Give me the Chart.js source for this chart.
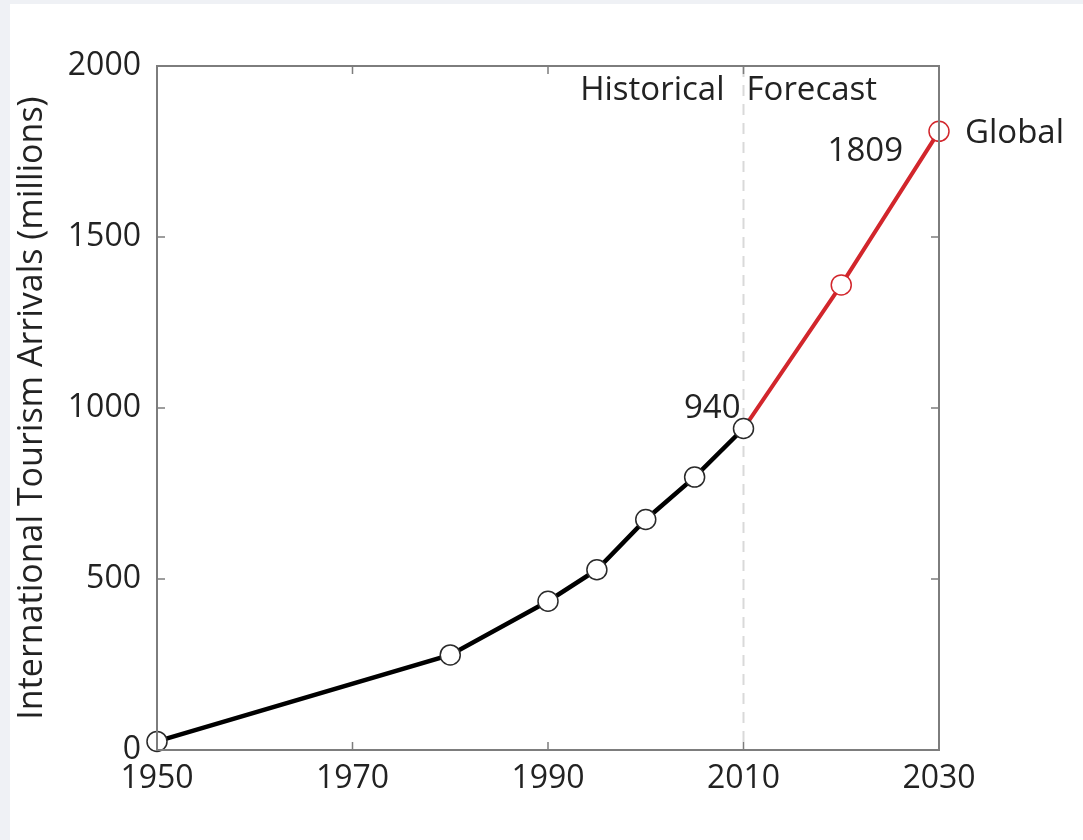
<!DOCTYPE html>
<html>
<head>
<meta charset="utf-8">
<script src="https://cdn.jsdelivr.net/npm/chart.js@4"></script>
<style>
  html, body { margin: 0; padding: 0; background: #eff1f5; }
  #wrap { position: absolute; left: 10px; top: 4px; width: 1073px; height: 836px; background: #ffffff; }
</style>
</head>
<body>
<div id="wrap"><canvas id="chart" width="1073" height="836"></canvas></div>
<script>
// tourism arrivals, millions
const histYears = [1950, 1980, 1990, 1995, 2000, 2005, 2010];
const histValues = [25, 278, 435, 527, 674, 798, 940];
const foreYears = [2010, 2020, 2030];
const foreValues = [940, 1360, 1809];
const xTicks = [1950, 1970, 1990, 2010, 2030];
const yTicks = [0, 500, 1000, 1500, 2000];

const FONT = "'Open Sans', 'Noto Sans', sans-serif";
const textColor = "#222222";
const red = "#d2262c";

// box, inward ticks, divider line and labels
const decor = {
  id: "decor",
  beforeDatasetsDraw(chart) {
    const ctx = chart.ctx;
    const x = chart.scales.x;
    const a = chart.chartArea;
    ctx.save();
    // dashed split at 2010
    ctx.strokeStyle = "#d9d9d9";
    ctx.lineWidth = 2;
    ctx.setLineDash([11, 8]);
    const xs = x.getPixelForValue(2010);
    ctx.beginPath();
    ctx.moveTo(xs, a.top);
    ctx.lineTo(xs, a.bottom);
    ctx.stroke();
    ctx.restore();
  },
  afterDatasetsDraw(chart) {
    const ctx = chart.ctx;
    const x = chart.scales.x, y = chart.scales.y;
    const a = chart.chartArea;
    ctx.save();
    ctx.strokeStyle = "#7d7d7d";
    ctx.lineWidth = 2;
    ctx.strokeRect(a.left, a.top, a.right - a.left, a.bottom - a.top);
    ctx.lineWidth = 1.5;
    ctx.beginPath();
    xTicks.slice(1, -1).forEach(v => {
      const px = x.getPixelForValue(v);
      ctx.moveTo(px, a.bottom); ctx.lineTo(px, a.bottom - 8);
      ctx.moveTo(px, a.top); ctx.lineTo(px, a.top + 8);
    });
    yTicks.slice(1, -1).forEach(v => {
      const py = y.getPixelForValue(v);
      ctx.moveTo(a.left, py); ctx.lineTo(a.left + 8, py);
      ctx.moveTo(a.right, py); ctx.lineTo(a.right - 8, py);
    });
    ctx.stroke();

    ctx.fillStyle = textColor;
    ctx.font = "33px " + FONT;
    ctx.textBaseline = "middle";
    const xs = x.getPixelForValue(2010);
    ctx.textAlign = "right";
    ctx.fillText("Historical", xs - 19, a.top + 25);
    ctx.textAlign = "left";
    ctx.fillText("Forecast", xs + 3, a.top + 25);

    ctx.textAlign = "right";
    ctx.fillText("940", x.getPixelForValue(2010) - 3, y.getPixelForValue(940) - 20);
    ctx.fillText("1809", x.getPixelForValue(2030) - 36, y.getPixelForValue(1809) + 20);
    ctx.textAlign = "left";
    ctx.fillText("Global", x.getPixelForValue(2030) + 26, y.getPixelForValue(1809) + 2);
    ctx.restore();
  }
};

new Chart(document.getElementById("chart"), {
  type: "line",
  data: {
    datasets: [
      {
        label: "Historical",
        data: histYears.map((yr, i) => ({ x: yr, y: histValues[i] })),
        borderColor: "#000000",
        borderWidth: 4.5,
        pointRadius: 10,
        pointBackgroundColor: "#ffffff",
        pointBorderColor: "#2a2a2a",
        pointBorderWidth: 1.5
      },
      {
        label: "Forecast",
        data: foreYears.map((yr, i) => ({ x: yr, y: foreValues[i] })),
        borderColor: red,
        borderWidth: 4,
        pointRadius: [0, 10, 10],
        pointBackgroundColor: "#ffffff",
        pointBorderColor: red,
        pointBorderWidth: 1.5
      }
    ]
  },
  options: {
    responsive: false,
    animation: false,
    clip: false,
    layout: { padding: { left: 0, top: 62, right: 144, bottom: 0 } },
    plugins: { legend: { display: false }, tooltip: { enabled: false } },
    scales: {
      x: {
        type: "linear",
        min: 1950,
        max: 2030,
        afterBuildTicks: s => { s.ticks = xTicks.map(v => ({ value: v })); },
        afterFit: s => { s.height = 90; },
        grid: { display: false, drawTicks: false },
        border: { display: false },
        ticks: {
          padding: 10,
          color: textColor,
          font: { family: FONT, size: 32 },
          maxRotation: 0,
          callback: v => String(v)
        }
      },
      y: {
        min: 0,
        max: 2000,
        afterBuildTicks: s => { s.ticks = yTicks.map(v => ({ value: v })); },
        afterFit: s => { s.width = 147; },
        grid: { display: false, drawTicks: false },
        border: { display: false },
        ticks: {
          padding: 16,
          color: textColor,
          font: { family: FONT, size: 32 },
          callback: v => String(v)
        },
        title: {
          display: true,
          text: "International Tourism Arrivals (millions)",
          color: textColor,
          font: { family: FONT, size: 34 },
          padding: { top: 2, bottom: 0 }
        }
      }
    }
  },
  plugins: [decor]
});
</script>
</body>
</html>
